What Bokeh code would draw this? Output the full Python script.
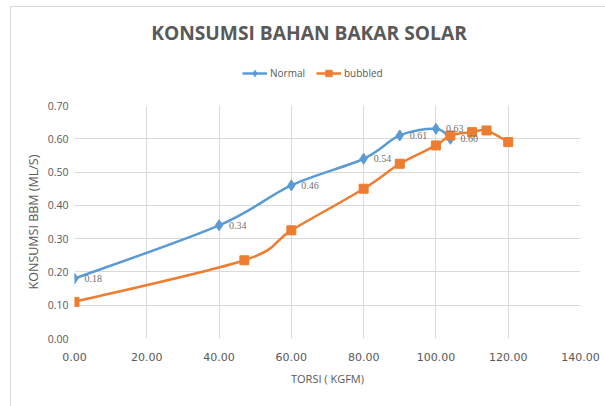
from bokeh.plotting import figure
from bokeh.layouts import column
from bokeh.models import (ColumnDataSource, FixedTicker, NumeralTickFormatter, Legend, LegendItem,
                          LabelSet, Label)
from bokeh.embed import file_html
from bokeh.resources import INLINE

# ---- data ----
title_text = "KONSUMSI BAHAN BAKAR SOLAR"
x_label = "TORSI ( KGFM)"
y_label = "KONSUMSI BBM (ML/S)"
series_names = ["Normal", "bubbled"]

normal_x = [0, 40, 60, 80, 90, 100, 104]
normal_y = [0.18, 0.34, 0.46, 0.54, 0.61, 0.63, 0.60]

bubbled_x = [0, 47, 60, 80, 90, 100, 104, 110, 114, 120]
bubbled_y = [0.11, 0.235, 0.325, 0.45, 0.525, 0.58, 0.61, 0.62, 0.625, 0.59]

x_ticks = [0, 20, 40, 60, 80, 100, 120, 140]
y_ticks = [0.0, 0.1, 0.2, 0.3, 0.4, 0.5, 0.6, 0.7]

BLUE = "#5b9bd5"
ORANGE = "#ed7d31"
GRAY = "#595959"
GRID = "#d9d9d9"
W = 605
HEAD_H = 100
MAIN_H = 306


def smooth_segments(xs, ys):
    """Bezier control points (Catmull-Rom style smoothing, like a spreadsheet's smoothed line)."""
    n = len(xs)
    out = dict(x0=[], y0=[], x1=[], y1=[], cx0=[], cy0=[], cx1=[], cy1=[])
    for i in range(n - 1):
        xm, ym = (xs[i - 1], ys[i - 1]) if i > 0 else (xs[i], ys[i])
        xp, yp = (xs[i + 2], ys[i + 2]) if i + 2 < n else (xs[i + 1], ys[i + 1])
        out["x0"].append(xs[i]); out["y0"].append(ys[i])
        out["x1"].append(xs[i + 1]); out["y1"].append(ys[i + 1])
        out["cx0"].append(xs[i] + (xs[i + 1] - xm) / 6.0)
        out["cy0"].append(ys[i] + (ys[i + 1] - ym) / 6.0)
        out["cx1"].append(xs[i + 1] - (xp - xs[i]) / 6.0)
        out["cy1"].append(ys[i + 1] - (yp - ys[i]) / 6.0)
    return ColumnDataSource(out)


# ---------------- header (title + legend) ----------------
head = figure(width=W, height=HEAD_H, x_range=(0, 140), y_range=(0, 0.7),
              output_backend="svg", toolbar_location=None,
              x_axis_location=None, y_axis_location=None,
              min_border=0, min_border_left=0, min_border_right=0,
              min_border_top=0, min_border_bottom=0)
head.outline_line_color = None
head.grid.visible = False
head.title.visible = False
head.background_fill_color = None
head.border_fill_color = None
head.styles = {"background": "linear-gradient(#d9d9d9,#d9d9d9) 10px 6px / 1px 100% no-repeat, "
                             "linear-gradient(#d9d9d9,#d9d9d9) 10px 6px / 100% 1px no-repeat, white"}

head.add_layout(Label(x=234.5, y=68.5, x_units="screen", y_units="screen", text=title_text,
                      text_align="center", text_baseline="alphabetic", text_font="Open Sans",
                      text_font_style="bold", text_font_size="19.2px", text_color=GRAY))

# legend keys: hidden copies of the two series, used only for the legend swatches
kl_n = head.line(normal_x, normal_y, line_color=BLUE, line_width=2.5, visible=False)
km_n = head.scatter(normal_x, normal_y, marker="diamond", size=11, color=BLUE, visible=False)
kl_b = head.line(bubbled_x, bubbled_y, line_color=ORANGE, line_width=2.5, visible=False)
km_b = head.scatter(bubbled_x, bubbled_y, marker="square", size=9, color=ORANGE, visible=False)

legend = Legend(items=[LegendItem(label=series_names[0], renderers=[kl_n, km_n]),
                       LegendItem(label=series_names[1], renderers=[kl_b, km_b])],
                orientation="horizontal", location=(168, 19),
                glyph_width=25, glyph_height=16, label_standoff=3, spacing=11,
                padding=0, margin=0, border_line_color=None, background_fill_alpha=0,
                inactive_fill_alpha=0,
                label_text_font="Open Sans", label_text_font_size="10px",
                label_text_color=GRAY)
head.add_layout(legend, "center")

# ---------------- main chart ----------------
p = figure(width=W, height=MAIN_H, x_range=(0, 140), y_range=(0, 0.7),
           output_backend="svg", toolbar_location=None,
           min_border_left=74, min_border_right=25, min_border_top=5, min_border_bottom=68)
p.outline_line_color = None
p.background_fill_color = "white"
p.border_fill_color = None
p.styles = {"background": "linear-gradient(#d9d9d9,#d9d9d9) 10px 0px / 1px 100% no-repeat, white"}

for g in (p.xgrid, p.ygrid):
    g.grid_line_color = GRID
    g.grid_line_width = 1
p.xaxis.ticker = FixedTicker(ticks=x_ticks)
p.yaxis.ticker = FixedTicker(ticks=y_ticks)
p.xaxis.formatter = NumeralTickFormatter(format="0.00")
p.yaxis.formatter = NumeralTickFormatter(format="0.00")

for ax in (p.xaxis, p.yaxis):
    ax.axis_line_color = None
    ax.major_tick_line_color = None
    ax.minor_tick_line_color = None
    ax.major_tick_out = 0
    ax.major_tick_in = 0
    ax.major_label_text_color = GRAY
    ax.axis_label_text_color = GRAY
    ax.axis_label_text_font_style = "normal"

p.xaxis.major_label_text_font = "DejaVu Sans"
p.xaxis.major_label_text_font_size = "11px"
p.xaxis.major_label_standoff = 14
p.xaxis.axis_label = x_label
p.xaxis.axis_label_text_font = "Open Sans"
p.xaxis.axis_label_text_font_size = "11px"
p.xaxis.axis_label_standoff = 7

p.yaxis.major_label_text_font = "Open Sans"
p.yaxis.major_label_text_font_size = "10.5px"
p.yaxis.major_label_standoff = 6
p.yaxis.axis_label = y_label
p.yaxis.axis_label_text_font = "Open Sans"
p.yaxis.axis_label_text_font_size = "12.5px"
p.yaxis.axis_label_standoff = 3

src_n = smooth_segments(normal_x, normal_y)
src_b = smooth_segments(bubbled_x, bubbled_y)
p.bezier(x0="x0", y0="y0", x1="x1", y1="y1", cx0="cx0", cy0="cy0", cx1="cx1", cy1="cy1",
         source=src_n, line_color=BLUE, line_width=2.5)
p.bezier(x0="x0", y0="y0", x1="x1", y1="y1", cx0="cx0", cy0="cy0", cx1="cx1", cy1="cy1",
         source=src_b, line_color=ORANGE, line_width=2.5)

pts_n = ColumnDataSource(dict(x=normal_x, y=normal_y, lbl=["%.2f" % v for v in normal_y]))
pts_b = ColumnDataSource(dict(x=bubbled_x, y=bubbled_y))
p.scatter("x", "y", source=pts_n, marker="diamond", size=11, color=BLUE)
p.scatter("x", "y", source=pts_b, marker="square", size=9, color=ORANGE)

p.add_layout(LabelSet(x="x", y="y", text="lbl", source=pts_n, x_offset=10, y_offset=0,
                      text_baseline="middle", text_align="left", text_color="#707070",
                      text_font="Open Sans", text_font_size="10px"))

layout = column(head, p, spacing=0)
open("out.html", "w").write(file_html(layout, INLINE))
